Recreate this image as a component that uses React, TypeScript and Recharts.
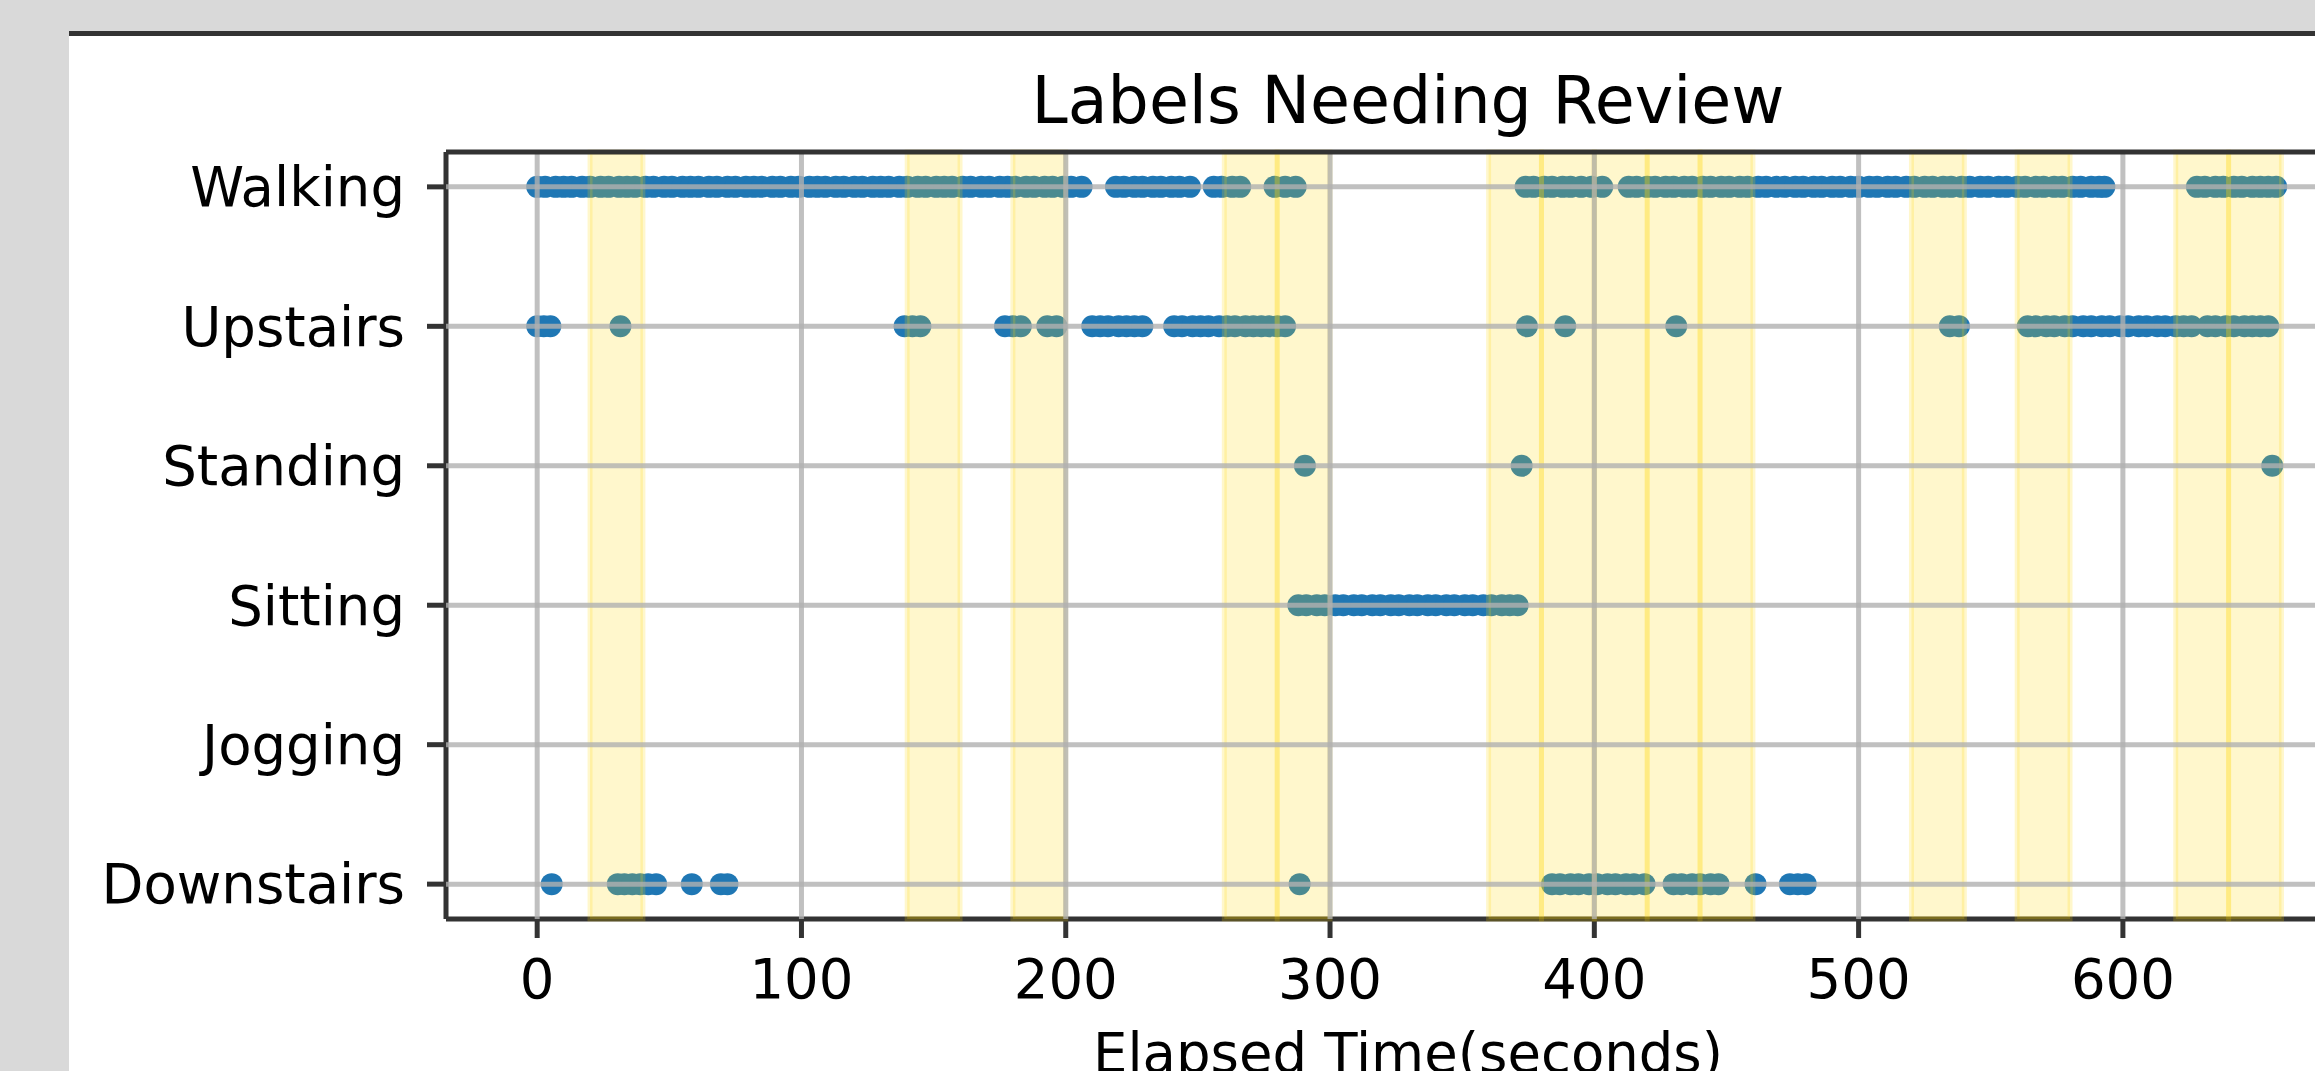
import { ScatterChart, Scatter, XAxis, YAxis, ReferenceArea, ReferenceLine, Label } from 'recharts';

// activity rows, bottom to top (index = y value)
const categories = ['Downstairs', 'Jogging', 'Sitting', 'Standing', 'Upstairs', 'Walking'];
const xTicks = [0, 100, 200, 300, 400, 500, 600];

// elapsed seconds of each labelled sample
const walkingTimes = [
  0, 3, 7, 10, 13, 17, 20, 24, 27, 31, 34, 37, 41, 44, 48, 51, 55, 58, 61, 65, 68, 72, 75, 79, 82, 85,
  89, 92, 96, 99, 103, 106, 109, 113, 116, 120, 123, 127, 130, 133, 137, 140, 144, 147, 151, 154, 157,
  161, 164, 168, 171, 175, 178, 181, 185, 188, 192, 195, 199, 202, 206,
  219, 222, 226, 229, 233, 236, 240, 243, 247, 256, 259, 263, 266,
  279, 283, 287,
  374, 377, 381, 384, 388, 391, 395, 399, 403,
  413, 416, 420, 423, 427, 430, 434, 437, 441, 444, 448, 451, 455, 458, 462, 465, 469, 472, 476, 479,
  483, 486, 490, 493, 497, 500, 504, 507, 511, 514, 518, 521, 525, 528, 532, 535, 539, 542, 546, 549,
  553, 556, 560, 563, 567, 570, 574, 577, 581, 584, 588, 591, 593,
  628, 631, 635, 638, 642, 645, 649, 652, 655, 658,
];
const upstairsTimes = [
  0, 2.5, 5, 31.5, 139, 142, 145, 177, 180, 183, 193, 196.5,
  210, 213, 216, 220, 223, 226, 229,
  241, 244, 248, 251, 254, 258, 261, 264, 268, 271, 274, 277, 280, 283,
  374.5, 389, 431, 534.5, 538,
  564, 567, 571, 574, 578, 581, 585, 588, 592, 595, 599, 602, 606, 609, 613, 616, 620, 623, 626,
  632, 635, 639, 642, 646, 649, 652, 655,
];
const standingTimes = [290.5, 372.5, 656.5];
const sittingTimes = [
  288, 291, 295, 298, 302, 305, 309, 312, 316, 319, 323, 326, 330, 333, 337, 340, 344, 347, 351, 354,
  358, 361, 365, 368, 371,
];
const joggingTimes: number[] = [];
const downstairsTimes = [
  5.5, 30.5, 33, 36, 39, 42, 45, 58.5, 69.5, 72, 288.5,
  384, 387, 391, 394, 398, 401, 405, 408, 412, 415, 419, 430, 433, 437, 440, 444, 447, 461, 474, 477, 480,
];

// windows flagged for review (seconds)
const reviewWindows = [
  [20, 40], [140, 160], [180, 200], [260, 280], [280, 300], [360, 380], [380, 400], [400, 420],
  [420, 440], [440, 460], [520, 540], [560, 580], [620, 640], [640, 660],
];

const rows = [
  { name: 'Downstairs', times: downstairsTimes },
  { name: 'Jogging', times: joggingTimes },
  { name: 'Sitting', times: sittingTimes },
  { name: 'Standing', times: standingTimes },
  { name: 'Upstairs', times: upstairsTimes },
  { name: 'Walking', times: walkingTimes },
];

const FONT = '"DejaVu Sans", sans-serif';
const SPINE = '#333';

const Dot = (p: any) => <circle cx={p.cx} cy={p.cy} r={11} fill="#1f77b4" />;

export default function App() {
  const tickStyle = { fill: '#000', fontSize: 54.5, fontFamily: FONT };

  return (
    <div style={{ position: 'fixed', left: 0, top: 0, width: 2315, height: 1071, overflow: 'hidden', background: '#d9d9d9' }}>
      <div style={{ position: 'absolute', left: 69, top: 31, right: 0, height: 5, background: '#333' }} />
      <div style={{ position: 'absolute', left: 69, top: 36, right: 0, bottom: 0, background: '#fff' }} />
      <div
        style={{
          position: 'absolute', left: 446, top: 68, width: 1924, textAlign: 'center',
          fontFamily: FONT, fontSize: 65, lineHeight: '65px', color: '#000',
        }}
      >
        Labels Needing Review
      </div>
      <div style={{ position: 'absolute', left: 0, top: 0 }}>
        <ScatterChart width={2400} height={1072} margin={{ top: 152, right: 30, bottom: 0, left: 0 }}>
          <XAxis
            type="number"
            dataKey="t"
            domain={[-34.5, 693.5]}
            allowDataOverflow
            ticks={xTicks}
            interval={0}
            height={153}
            tickSize={19}
            tickMargin={21}
            tick={tickStyle}
            axisLine={{ stroke: SPINE, strokeWidth: 5 }}
            tickLine={{ stroke: SPINE, strokeWidth: 5 }}
          >
            <Label value="Elapsed Time(seconds)" position="insideBottom" offset={0} fill="#000" fontSize={54.5} fontFamily={FONT} />
          </XAxis>
          <YAxis
            type="number"
            dataKey="y"
            domain={[-0.25, 5.25]}
            allowDataOverflow
            ticks={[0, 1, 2, 3, 4, 5]}
            interval={0}
            width={446}
            tickSize={19}
            tickMargin={22}
            tickFormatter={(v: number) => categories[v]}
            tick={tickStyle}
            axisLine={{ stroke: SPINE, strokeWidth: 5 }}
            tickLine={{ stroke: SPINE, strokeWidth: 5 }}
          />
          {rows.map((r, i) => (
            <Scatter
              key={r.name}
              name={r.name}
              data={r.times.map((t) => ({ t, y: i }))}
              shape={Dot}
              isAnimationActive={false}
            />
          ))}
          {reviewWindows.map(([a, b]) => (
            <ReferenceArea
              key={`w${a}`}
              x1={a}
              x2={b}
              fill="#ffd700"
              fillOpacity={0.2}
              stroke="#ffd700"
              strokeOpacity={0.2}
              strokeWidth={5}
              zIndex={650}
            />
          ))}
          {xTicks.map((v) => (
            <ReferenceLine key={`gx${v}`} x={v} stroke="#b0b0b0" strokeOpacity={0.8} strokeWidth={5} zIndex={660} />
          ))}
          {categories.map((c, i) => (
            <ReferenceLine key={`gy${c}`} y={i} stroke="#b0b0b0" strokeOpacity={0.8} strokeWidth={5} zIndex={660} />
          ))}
          <ReferenceLine y={5.25} stroke={SPINE} strokeWidth={5} zIndex={670} />
        </ScatterChart>
      </div>
    </div>
  );
}
